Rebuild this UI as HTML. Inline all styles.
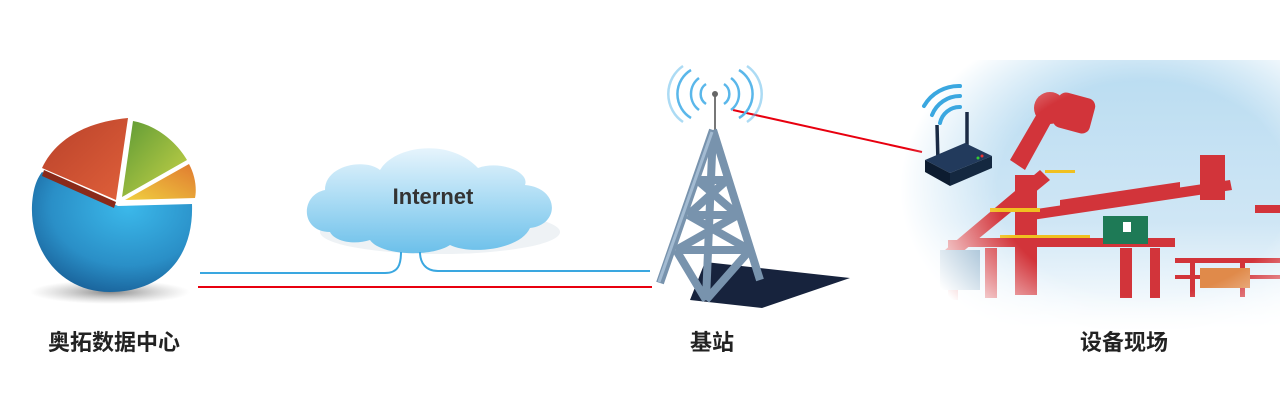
<!DOCTYPE html>
<html><head><meta charset="utf-8"><style>
html,body{margin:0;padding:0;background:#fff;}
body{width:1280px;height:410px;position:relative;overflow:hidden;font-family:"Liberation Sans","Noto Sans CJK SC",sans-serif;}
.lbl{position:absolute;top:325px;font-size:22px;font-weight:bold;color:#222;white-space:nowrap;}
</style></head><body>
<svg width="1280" height="410" style="position:absolute;left:0;top:0">
<defs>
<radialGradient id="blue" cx="0.6" cy="0.3" r="0.8"><stop offset="0" stop-color="#3bb8ea"/><stop offset="0.6" stop-color="#2a8fc7"/><stop offset="1" stop-color="#15578f"/></radialGradient>
<linearGradient id="red" x1="0" y1="0" x2="1" y2="1"><stop offset="0" stop-color="#b8412a"/><stop offset="1" stop-color="#e0603a"/></linearGradient>
<linearGradient id="green" x1="0" y1="0" x2="1" y2="1"><stop offset="0" stop-color="#5e9a35"/><stop offset="1" stop-color="#c9d448"/></linearGradient>
<linearGradient id="orange" x1="0" y1="1" x2="1" y2="0"><stop offset="0" stop-color="#f0d040"/><stop offset="1" stop-color="#e07a30"/></linearGradient>
<linearGradient id="cloud" x1="0" y1="0" x2="0" y2="1"><stop offset="0" stop-color="#e6f4fc"/><stop offset="0.5" stop-color="#a9dbf4"/><stop offset="1" stop-color="#6cc0ea"/></linearGradient>
<radialGradient id="shadow" cx="0.5" cy="0.5" r="0.5"><stop offset="0" stop-color="#555" stop-opacity="0.7"/><stop offset="1" stop-color="#999" stop-opacity="0"/></radialGradient>
<linearGradient id="sky" x1="0" y1="0" x2="0" y2="1"><stop offset="0" stop-color="#b9dcf1"/><stop offset="0.6" stop-color="#cfe6f5"/><stop offset="1" stop-color="#ffffff"/></linearGradient>
<radialGradient id="skymask" cx="0.58" cy="0.48" r="0.58"><stop offset="0.6" stop-color="#fff" stop-opacity="1"/><stop offset="1" stop-color="#fff" stop-opacity="0"/></radialGradient>
<mask id="m" maskUnits="userSpaceOnUse" x="900" y="40" width="420" height="310"><rect x="900" y="40" width="420" height="310" fill="url(#skymask)"/></mask>
</defs>
<!-- pie -->
<ellipse cx="110" cy="292" rx="80" ry="12" fill="url(#shadow)"/>
<path d="M42 172 L118 206 L192 204 C194 260 160 292 110 292 C60 292 30 250 32 205 C33 190 36 180 42 172 Z" fill="url(#blue)"/>
<path d="M42 168 C55 140 85 122 128 118 L116 200 Z" fill="url(#red)"/>
<path d="M44 170 L116 202 L114 208 L42 176 Z" fill="#8a2a1a"/>
<path d="M133 121 C155 125 175 140 187 160 L122 197 Z" fill="url(#green)"/>
<path d="M189 164 C195 175 197 188 195 198 L125 200 Z" fill="url(#orange)"/>
<!-- cloud -->
<ellipse cx="440" cy="232" rx="120" ry="22" fill="#eef2f5"/>
<path d="M330 232 C300 232 300 195 325 190 C325 165 365 158 380 170 C395 145 450 138 478 168 C500 160 530 172 525 185 C560 188 560 225 530 228 C520 250 470 255 450 245 C430 258 380 255 370 240 C355 245 335 242 330 232 Z" fill="url(#cloud)"/>
<text x="433" y="204" font-family="Liberation Sans, sans-serif" font-size="22" font-weight="bold" fill="#333" text-anchor="middle">Internet</text>
<!-- lines -->
<path d="M200 273 L385 273 C398 273 401 265 401 252" stroke="#3aa7e0" stroke-width="2" fill="none"/>
<path d="M420 252 C420 262 425 271 438 271 L650 271" stroke="#3aa7e0" stroke-width="2" fill="none"/>
<line x1="198" y1="287" x2="652" y2="287" stroke="#e8000f" stroke-width="2"/>
<line x1="733" y1="110" x2="922" y2="152" stroke="#e8000f" stroke-width="2"/>
<!-- tower -->
<polygon points="705,262 850,278 762,308 690,300" fill="#17233d"/>
<line x1="715" y1="95" x2="715" y2="130" stroke="#777" stroke-width="2"/>
<circle cx="715" cy="94" r="3" fill="#666"/>
<g fill="none" stroke="#5ab7ea" stroke-width="2.5">
<path d="M706 84 A12 12 0 0 0 706 104"/><path d="M724 84 A12 12 0 0 1 724 104"/>
<path d="M699 78 A20 20 0 0 0 699 110"/><path d="M731 78 A20 20 0 0 1 731 110"/>
<path d="M691 70 A28 28 0 0 0 691 118"/><path d="M739 70 A28 28 0 0 1 739 118"/>
<path d="M683 66 A34 34 0 0 0 683 122" stroke-opacity="0.5"/><path d="M747 66 A34 34 0 0 1 747 122" stroke-opacity="0.5"/>
</g>
<g stroke="#7893ad" stroke-width="8" fill="none" stroke-linejoin="round">
<path d="M713 130 L660 283 M713 130 L706 300 M713 130 L760 280"/>
<path d="M697 180 L727 180 M688 215 L738 215 M676 250 L750 250"/>
<path d="M697 180 L738 215 M727 180 L688 215 M688 215 L750 250 M738 215 L676 250 M676 250 L706 300 M750 250 L706 300"/>
</g>
<g stroke="#a3bbd2" stroke-width="3" fill="none"><path d="M712 132 L659 282"/></g>
<!-- scene -->
<g mask="url(#m)">
<rect x="900" y="60" width="400" height="270" fill="url(#sky)"/>
<g fill="#d2343a">
<polygon points="1010,160 1045,100 1058,110 1025,170"/>
<circle cx="1050" cy="108" r="16"/>
<rect x="1055" y="95" width="38" height="36" rx="8" transform="rotate(15 1074 113)"/>
<polygon points="945,250 1040,170 1050,180 955,258"/>
<rect x="1015" y="175" width="22" height="120"/>
<polygon points="1030,210 1230,180 1232,190 1032,220"/>
<polygon points="1060,200 1180,182 1180,188 1060,206"/>
<rect x="965" y="238" width="210" height="9"/>
<rect x="948" y="240" width="10" height="60"/>
<rect x="985" y="248" width="12" height="50"/>
<rect x="1120" y="248" width="12" height="50"/>
<rect x="1150" y="248" width="10" height="50"/>
<rect x="1200" y="155" width="25" height="45"/>
<rect x="1175" y="258" width="105" height="5"/>
<rect x="1175" y="275" width="105" height="4"/>
<rect x="1190" y="262" width="5" height="35"/><rect x="1240" y="262" width="5" height="35"/>
<rect x="1255" y="205" width="25" height="8"/>
</g>
<g fill="#f0c020">
<rect x="990" y="208" width="50" height="4"/>
<rect x="1000" y="235" width="90" height="3"/>
<rect x="1045" y="170" width="30" height="3"/>
</g>
<rect x="1103" y="216" width="45" height="28" fill="#1e7a56"/>
<rect x="1123" y="222" width="8" height="10" fill="#fff"/>
<rect x="940" y="250" width="40" height="40" fill="#7fa7c5"/>
<rect x="1200" y="268" width="50" height="20" fill="#e08a4a"/>
</g>
<!-- router -->
<g fill="none" stroke="#3aa7e0" stroke-width="4" stroke-linecap="round">
<path d="M940 123 A20 20 0 0 1 960 107"/><path d="M932 115 A30 30 0 0 1 960 96"/><path d="M924 106 A40 40 0 0 1 960 86"/>
</g>
<line x1="937" y1="125" x2="938" y2="162" stroke="#1a2a44" stroke-width="3.5"/>
<line x1="967" y1="112" x2="967" y2="150" stroke="#1a2a44" stroke-width="3.5"/>
<polygon points="925,160 965,143 992,156 950,173" fill="#223a5c"/>
<polygon points="925,160 950,173 950,186 925,172" fill="#0d1c30"/>
<polygon points="950,173 992,156 992,168 950,186" fill="#142840"/>
<circle cx="978" cy="158" r="1.5" fill="#3c3"/><circle cx="982" cy="156" r="1.5" fill="#e33"/>
</svg>
<div class="lbl" style="left:48px">奥拓数据中心</div>
<div class="lbl" style="left:690px">基站</div>
<div class="lbl" style="left:1080px">设备现场</div>
</body></html>
